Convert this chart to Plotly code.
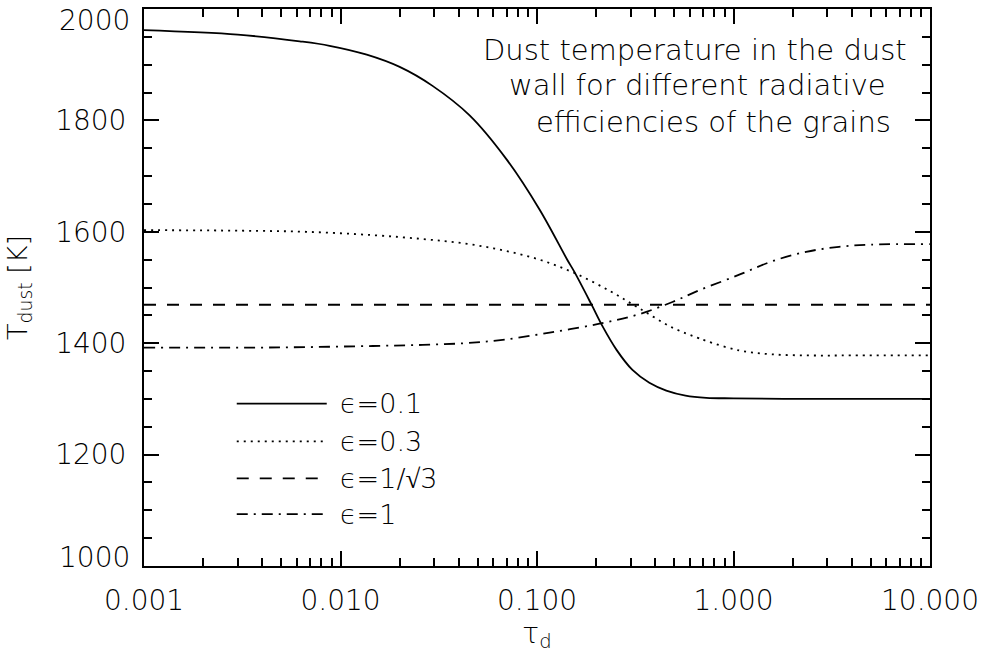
import plotly.graph_objects as go

# Optical depth samples and dust temperatures [K] for each grain efficiency
tau_eps01 = [0.001, 0.003, 0.0062, 0.0088, 0.0136, 0.020, 0.0294, 0.0454, 0.070,
             0.103, 0.143, 0.155, 0.189, 0.215, 0.254, 0.306, 0.373, 0.455,
             0.57, 0.727, 1.0, 2.0, 5.0, 10.0]
T_eps01 = [1962, 1954, 1942, 1934, 1918, 1896, 1862, 1809, 1730,
           1640, 1549, 1528, 1470, 1431, 1388, 1352, 1329, 1315,
           1306, 1302, 1301, 1300, 1300, 1300]

tau_eps03 = [0.001, 0.0031, 0.0067, 0.0146, 0.0262, 0.0428, 0.0668, 0.103, 0.155,
             0.234, 0.33, 0.489, 0.654, 0.727, 1.07, 1.57, 2.5, 4.0, 10.0]
T_eps03 = [1603, 1602, 1600, 1594, 1587, 1579, 1567, 1550, 1526,
           1494, 1463, 1428, 1410, 1404, 1387, 1380, 1378, 1378, 1378]

tau_eps_sqrt3 = [0.001, 10.0]
T_eps_sqrt3 = [1469, 1469]

tau_eps1 = [0.001, 0.0031, 0.0067, 0.0146, 0.0262, 0.0428, 0.0668, 0.116, 0.208,
            0.33, 0.489, 0.67, 1.07, 1.57, 2.34, 3.44, 5.0, 10.0]
T_eps1 = [1392, 1392, 1393, 1395, 1397, 1400, 1406, 1419, 1435,
          1452, 1474, 1495, 1523, 1547, 1564, 1573, 1577, 1578]

legend_labels = ["ϵ=0.1", "ϵ=0.3", "ϵ=1/√3", "ϵ=1"]
line_dashes = ["solid", "2px,5px", "12px,11px", "11px,6px,2px,6px"]

x_tickvals = [0.001, 0.01, 0.1, 1, 10]
x_ticktext = ["0.001", "0.010", "0.100", "1.000", "10.000"]
y_tickvals = [1200, 1400, 1600, 1800]
# the two end labels sit inward, next to the frame corners
y_end_labels = ["1000", "2000"]

note_lines = ["Dust temperature in the dust",
              "wall for different radiative",
              "efficiencies of the grains"]

FONT = "DejaVu Sans"
WEIGHT = 300
INK = "black"

fig = go.Figure()
series = [(tau_eps01, T_eps01), (tau_eps03, T_eps03),
          (tau_eps_sqrt3, T_eps_sqrt3), (tau_eps1, T_eps1)]
for (xs, ys), dash, name in zip(series, line_dashes, legend_labels):
    fig.add_trace(go.Scatter(
        x=xs, y=ys, mode="lines", name=name,
        line=dict(color=INK, width=1.8, dash=dash, shape="spline", smoothing=1.0),
        showlegend=False,
    ))

# Hand-drawn legend block in the lower left of the plot area
legend_y = [0.2916, 0.2236, 0.1574, 0.093]
for yy, dash, name in zip(legend_y, line_dashes, legend_labels):
    fig.add_shape(type="line", xref="paper", yref="paper",
                  x0=0.118, x1=0.2325, y0=yy, y1=yy,
                  line=dict(color=INK, width=1.8, dash=dash))
    fig.add_annotation(xref="paper", yref="paper", x=0.2465, y=yy,
                       xanchor="left", yanchor="middle", showarrow=False,
                       text=name, font=dict(family=FONT, size=27, color=INK, weight=WEIGHT))

# Caption in the upper right corner
note_x = [0.7014, 0.704, 0.724]
note_y = [0.9267, 0.864, 0.798]
for tx, xx, yy in zip(note_lines, note_x, note_y):
    fig.add_annotation(xref="paper", yref="paper", x=xx, y=yy,
                       xanchor="center", yanchor="middle", showarrow=False,
                       text=tx, font=dict(family=FONT, size=29, color=INK, weight=WEIGHT))

# End labels of the temperature axis
for lab, yy in zip(y_end_labels, [0.0161, 0.9785]):
    fig.add_annotation(xref="paper", yref="paper", x=-0.0153, y=yy,
                       xanchor="right", yanchor="middle", showarrow=False,
                       text=lab, font=dict(family=FONT, size=28, color=INK, weight=WEIGHT))

axis_common = dict(
    showline=True, linecolor=INK, linewidth=2, mirror="ticks",
    ticks="inside", ticklen=15, tickwidth=1.5, tickcolor=INK,
    showgrid=False, zeroline=False,
    tickfont=dict(family=FONT, size=28, color=INK, weight=WEIGHT),
)

fig.update_xaxes(
    type="log", range=[-3, 1],
    tickvals=x_tickvals, ticktext=x_ticktext,
    minor=dict(ticks="inside", ticklen=8, tickwidth=1.5, tickcolor=INK,
               dtick="D1", showgrid=False),
    ticklabelstandoff=8,
    title=dict(text="τ<sub>d</sub>",
               font=dict(family=FONT, size=28, color=INK, weight=WEIGHT),
               standoff=0),
    **axis_common,
)
fig.update_yaxes(
    range=[1000, 2000], tickvals=y_tickvals,
    minor=dict(ticks="inside", ticklen=8, tickwidth=1.5, tickcolor=INK,
               dtick=50, showgrid=False),
    ticklabelstandoff=10,
    title=dict(text="T<sub>dust</sub> [K]",
               font=dict(family=FONT, size=27, color=INK, weight=WEIGHT),
               standoff=20),
    **axis_common,
)

fig.update_layout(
    width=986, height=659,
    margin=dict(l=144, r=55, t=7, b=93),
    paper_bgcolor="white", plot_bgcolor="white",
    font=dict(family=FONT, color=INK),
)

fig.write_html("out.html")
